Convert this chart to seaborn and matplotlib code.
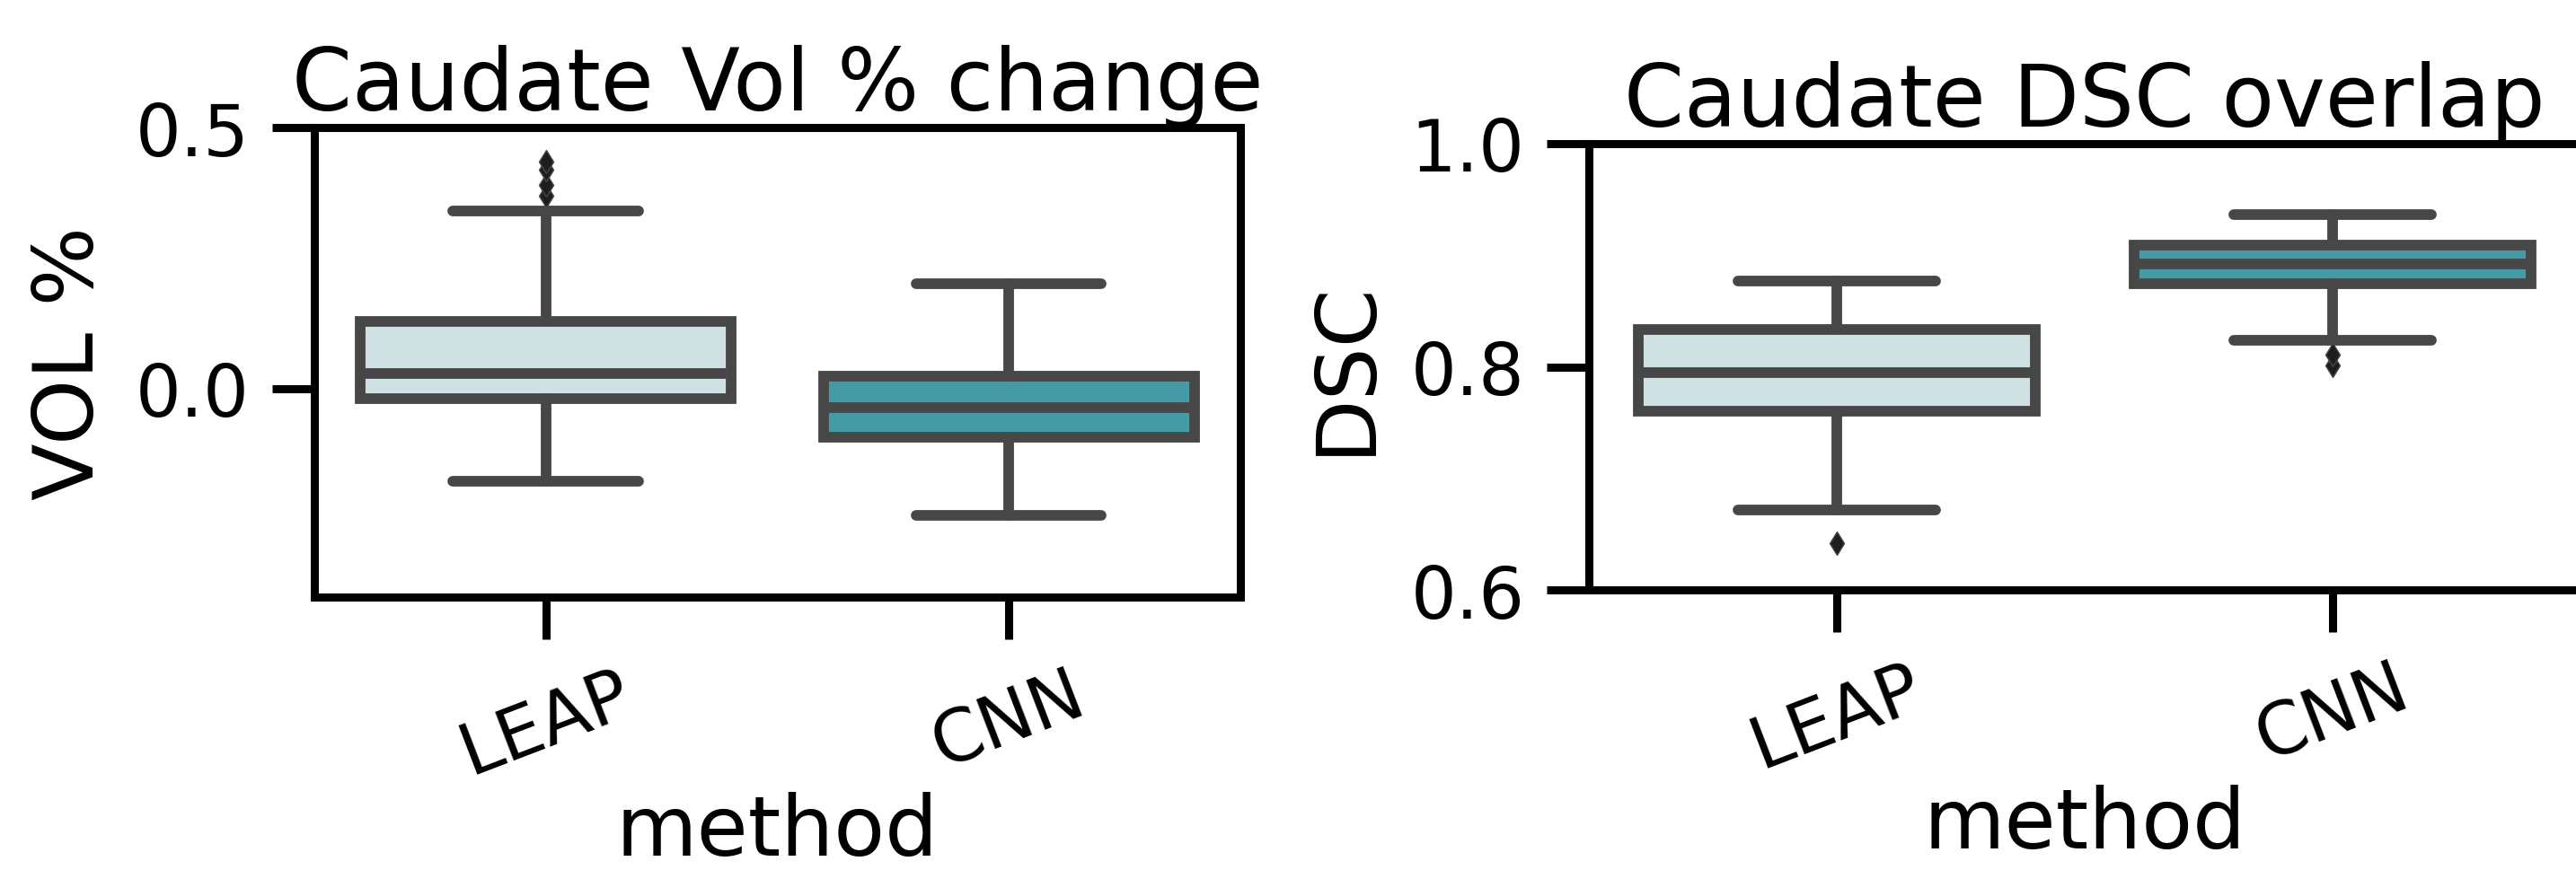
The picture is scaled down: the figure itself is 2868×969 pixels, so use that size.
import matplotlib
matplotlib.use("Agg")
import matplotlib.pyplot as plt
import seaborn as sns

# Summary statistics
methods = ["LEAP", "CNN"]
box_colors = ["#cfe1e3", "#449ba6"]

vol_whislo = [-0.179, -0.243]
vol_q1 = [-0.019, -0.094]
vol_med = [0.029, -0.037]
vol_q3 = [0.129, 0.024]
vol_whishi = [0.341, 0.200]
vol_fliers = [[0.370, 0.390, 0.420, 0.435], []]

dsc_whislo = [0.672, 0.824]
dsc_q1 = [0.760, 0.874]
dsc_med = [0.795, 0.892]
dsc_q3 = [0.833, 0.909]
dsc_whishi = [0.877, 0.936]
dsc_fliers = [[0.642], [0.801, 0.811]]

sns.set_theme(style="ticks", context="poster")
plt.rcParams["font.family"] = ["DejaVu Sans"]
plt.rcParams["text.color"] = "black"
plt.rcParams["axes.labelcolor"] = "black"
plt.rcParams["xtick.color"] = "black"
plt.rcParams["ytick.color"] = "black"

edge = "#474747"
lw = 8.5


def draw_box(ax, whislo, q1, med, q3, whishi, fliers):
    stats = []
    for i, m in enumerate(methods):
        stats.append(dict(label=m, whislo=whislo[i], q1=q1[i], med=med[i],
                          q3=q3[i], whishi=whishi[i], fliers=fliers[i]))
    bp = ax.bxp(stats, positions=[0, 1], widths=0.8, patch_artist=True,
                boxprops=dict(edgecolor=edge, linewidth=lw),
                medianprops=dict(color=edge, linewidth=lw),
                whiskerprops=dict(color=edge, linewidth=lw),
                capprops=dict(color=edge, linewidth=lw),
                flierprops=dict(marker="d", markersize=13, markerfacecolor="#1e1e1e",
                                markeredgecolor=edge, markeredgewidth=1))
    for patch, c in zip(bp["boxes"], box_colors):
        patch.set_facecolor(c)
    ax.set_xlim(-0.5, 1.5)


fig = plt.figure(figsize=(28.68, 9.70), dpi=100)
ax1 = fig.add_axes([0.1219, 0.3137, 0.3597, 0.5386])
ax2 = fig.add_axes([0.6168, 0.3213, 0.3849, 0.5130])

draw_box(ax1, vol_whislo, vol_q1, vol_med, vol_q3, vol_whishi, vol_fliers)
ax1.set_ylim(-0.4, 0.5)
ax1.set_yticks([0.0, 0.5])
ax1.set_ylabel("VOL %", fontsize=67, labelpad=20)
ax1.set_title("Caudate Vol % change", fontsize=69, pad=7)
ax1.set_xlabel("method", fontsize=67, labelpad=2)

draw_box(ax2, dsc_whislo, dsc_q1, dsc_med, dsc_q3, dsc_whishi, dsc_fliers)
ax2.set_ylim(0.6, 1.0)
ax2.set_yticks([0.6, 0.8, 1.0])
ax2.set_ylabel("DSC", fontsize=67, labelpad=20)
ax2.set_title("Caudate DSC overlap", fontsize=69, pad=7)
ax2.set_xlabel("method", fontsize=67, labelpad=2)

for ax in (ax1, ax2):
    ax.set_xticks([0, 1])
    ax.set_xticklabels(methods, rotation=21)
    ax.tick_params(axis="both", length=34, width=6.5, labelsize=57.5, color="black")
    ax.tick_params(axis="y", pad=17.5)
    ax.tick_params(axis="x", pad=16)
    for s in ax.spines.values():
        s.set_linewidth(6.5)
        s.set_color("black")

fig.savefig("out.png", dpi=100)
